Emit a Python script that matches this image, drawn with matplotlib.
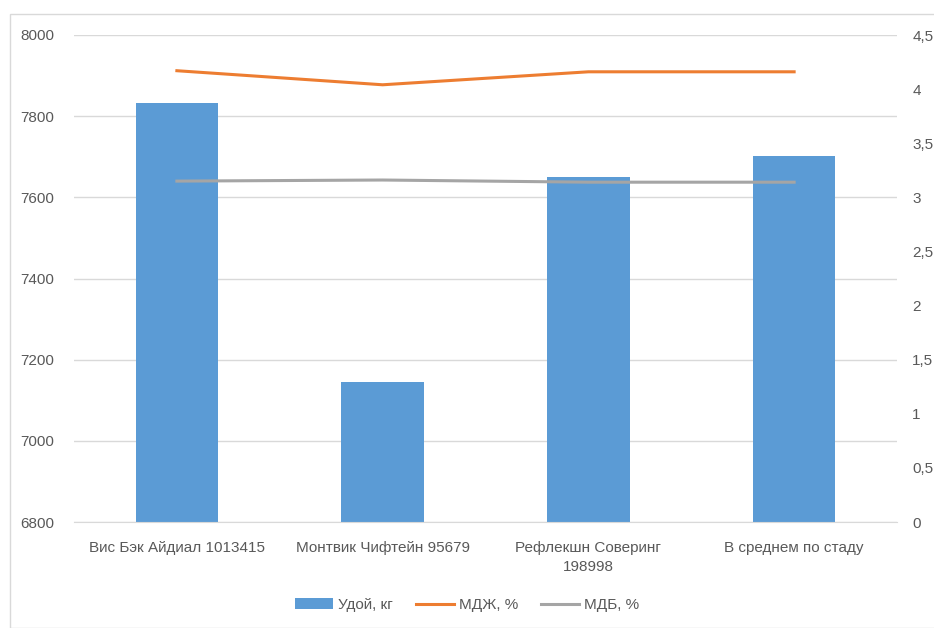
import matplotlib
matplotlib.use("Agg")
import matplotlib.pyplot as plt
from matplotlib.ticker import FuncFormatter, MultipleLocator
from matplotlib.patches import Rectangle
from matplotlib.lines import Line2D
from matplotlib.patches import Patch

plt.rcParams['font.family'] = ['Liberation Sans', 'DejaVu Sans']

categories = ["Вис Бэк Айдиал 1013415", "Монтвик Чифтейн 95679",
              "Рефлекшн Соверинг\n198998", "В среднем по стаду"]
milk_yield = [7832, 7145, 7650, 7702]
fat_pct = [4.17, 4.04, 4.16, 4.16]
protein_pct = [3.15, 3.16, 3.14, 3.14]

BLUE = "#5b9bd5"
ORANGE = "#ed7d31"
GRAY = "#a5a5a5"
TXT = "#595959"
GRID = "#d9d9d9"

fig = plt.figure(figsize=(9.34, 6.28), dpi=100)
W, H = 934, 628

# outer chart frame
fig.patches.append(Rectangle((10 / W, 0), 1.0, 1 - 14 / H, transform=fig.transFigure,
                             fill=False, edgecolor=GRID, linewidth=1.0))

ax = fig.add_axes([74 / W, 1 - 522 / H, (897 - 74) / W, (522 - 35) / H])
ax2 = ax.twinx()

x = list(range(len(categories)))
ax.bar(x, milk_yield, width=0.4, color=BLUE, zorder=2)
ax.set_ylim(6800, 8000)
ax.set_xlim(-0.5, 3.5)
ax.yaxis.set_major_locator(MultipleLocator(200))
ax.grid(axis='y', color=GRID, linewidth=1.0, zorder=0)
ax.set_axisbelow(True)

ax2.plot(x, fat_pct, color=ORANGE, linewidth=2.2, zorder=3)
ax2.plot(x, protein_pct, color=GRAY, linewidth=2.2, zorder=3)
ax2.set_ylim(0, 4.5)
ax2.yaxis.set_major_locator(MultipleLocator(0.5))
ax2.yaxis.set_major_formatter(FuncFormatter(lambda v, p: ("%g" % v).replace(".", ",")))

for a in (ax, ax2):
    for s in a.spines.values():
        s.set_visible(False)
    a.tick_params(length=0, colors=TXT, labelsize=11)
ax.spines['bottom'].set_visible(True)
ax.spines['bottom'].set_color(GRID)

ax.set_xticks(x)
ax.set_xticklabels(categories, fontsize=11, color=TXT, linespacing=1.45)
ax.tick_params(axis='x', pad=14)
ax.tick_params(axis='y', pad=14)
ax2.tick_params(axis='y', pad=11)

handles = [Patch(facecolor=BLUE, edgecolor='none'),
           Line2D([0], [0], color=ORANGE, linewidth=2.2),
           Line2D([0], [0], color=GRAY, linewidth=2.2)]
fig.legend(handles, ["Удой, кг", "МДЖ, %", "МДБ, %"], loc='center',
           bbox_to_anchor=(0.5, 1 - 605 / H), ncol=3, frameon=False,
           fontsize=11, labelcolor=TXT, handlelength=2.5, handletextpad=0.3,
           columnspacing=1.5)

fig.savefig("out.png", dpi=100)
